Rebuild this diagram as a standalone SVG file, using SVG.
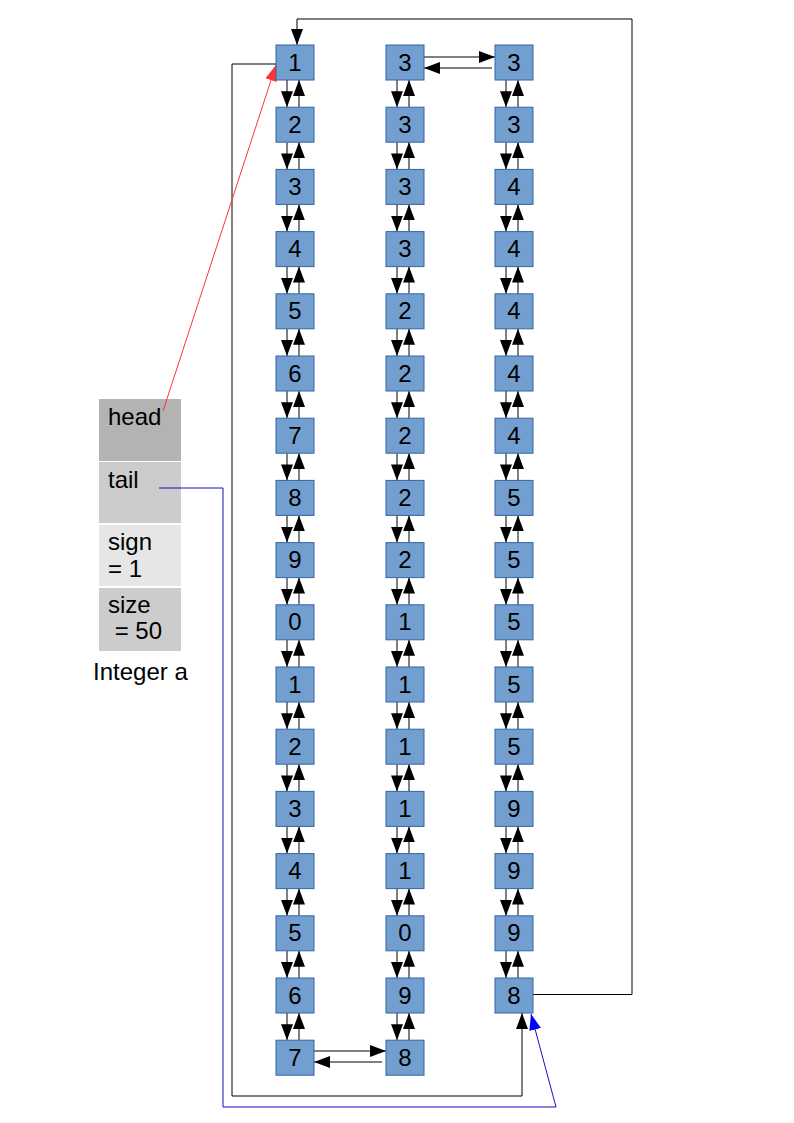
<svg xmlns="http://www.w3.org/2000/svg" xmlns:xlink="http://www.w3.org/1999/xlink" width="794" height="1123" viewBox="0 0 794 1123">
<style>
.n rect{fill:#729fcf;stroke:#3465a4;stroke-width:1}
.n text,.lbl{font-family:"Liberation Sans",Arial,sans-serif;font-size:24px;fill:#000}
.n text{text-anchor:middle}
.a{stroke:#000;stroke-width:1;fill:none;marker-end:url(#ah)}
.l{stroke:#000;stroke-width:1;fill:none}
</style>
<defs>
<marker id="ah" markerUnits="userSpaceOnUse" markerWidth="16" markerHeight="12" refX="16" refY="6" orient="auto" viewBox="0 0 16 12"><path d="M0,0 L16,6 L0,12 z" fill="#000"/></marker>
<marker id="ahr" markerUnits="userSpaceOnUse" markerWidth="16" markerHeight="12" refX="16" refY="6" orient="auto" viewBox="0 0 16 12"><path d="M0,0 L16,6 L0,12 z" fill="#ff3333"/></marker>
<marker id="ahb" markerUnits="userSpaceOnUse" markerWidth="16" markerHeight="12" refX="16" refY="6" orient="auto" viewBox="0 0 16 12"><path d="M0,0 L16,6 L0,12 z" fill="#0000ff"/></marker>
</defs>
<rect width="794" height="1123" fill="#fff"/>

<g id="integer-a">
<rect x="99" y="399" width="82" height="62" fill="#b3b3b3"/>
<rect x="99" y="462" width="82" height="61" fill="#cccccc"/>
<rect x="99" y="525" width="82" height="61" fill="#e6e6e6"/>
<rect x="99" y="588" width="82" height="63" fill="#cccccc"/>
<text class="lbl" x="108" y="425">head</text>
<text class="lbl" x="108" y="488">tail</text>
<text class="lbl" x="108" y="550">sign</text>
<text class="lbl" x="108" y="577">= 1</text>
<text class="lbl" x="108" y="613" xml:space="preserve">size</text>
<text class="lbl" x="108" y="639" xml:space="preserve"> = 50</text>
<text class="lbl" x="93" y="680">Integer a</text>
</g>

<g id="connectors">
<!-- column 1 vertical -->
<path class="a" d="M287,80 V107.2"/><path class="a" d="M299,107.2 V80"/>
<path class="a" d="M287,142.2 V169.4"/><path class="a" d="M299,169.4 V142.2"/>
<path class="a" d="M287,204.4 V231.6"/><path class="a" d="M299,231.6 V204.4"/>
<path class="a" d="M287,266.6 V293.8"/><path class="a" d="M299,293.8 V266.6"/>
<path class="a" d="M287,328.8 V356"/><path class="a" d="M299,356 V328.8"/>
<path class="a" d="M287,391 V418.2"/><path class="a" d="M299,418.2 V391"/>
<path class="a" d="M287,453.2 V480.4"/><path class="a" d="M299,480.4 V453.2"/>
<path class="a" d="M287,515.4 V542.6"/><path class="a" d="M299,542.6 V515.4"/>
<path class="a" d="M287,577.6 V604.8"/><path class="a" d="M299,604.8 V577.6"/>
<path class="a" d="M287,639.8 V667"/><path class="a" d="M299,667 V639.8"/>
<path class="a" d="M287,702 V729.2"/><path class="a" d="M299,729.2 V702"/>
<path class="a" d="M287,764.2 V791.4"/><path class="a" d="M299,791.4 V764.2"/>
<path class="a" d="M287,826.4 V853.6"/><path class="a" d="M299,853.6 V826.4"/>
<path class="a" d="M287,888.6 V915.8"/><path class="a" d="M299,915.8 V888.6"/>
<path class="a" d="M287,950.8 V978"/><path class="a" d="M299,978 V950.8"/>
<path class="a" d="M287,1013 V1040.2"/><path class="a" d="M299,1040.2 V1013"/>
<!-- column 2 vertical -->
<path class="a" d="M397,80 V107.2"/><path class="a" d="M409,107.2 V80"/>
<path class="a" d="M397,142.2 V169.4"/><path class="a" d="M409,169.4 V142.2"/>
<path class="a" d="M397,204.4 V231.6"/><path class="a" d="M409,231.6 V204.4"/>
<path class="a" d="M397,266.6 V293.8"/><path class="a" d="M409,293.8 V266.6"/>
<path class="a" d="M397,328.8 V356"/><path class="a" d="M409,356 V328.8"/>
<path class="a" d="M397,391 V418.2"/><path class="a" d="M409,418.2 V391"/>
<path class="a" d="M397,453.2 V480.4"/><path class="a" d="M409,480.4 V453.2"/>
<path class="a" d="M397,515.4 V542.6"/><path class="a" d="M409,542.6 V515.4"/>
<path class="a" d="M397,577.6 V604.8"/><path class="a" d="M409,604.8 V577.6"/>
<path class="a" d="M397,639.8 V667"/><path class="a" d="M409,667 V639.8"/>
<path class="a" d="M397,702 V729.2"/><path class="a" d="M409,729.2 V702"/>
<path class="a" d="M397,764.2 V791.4"/><path class="a" d="M409,791.4 V764.2"/>
<path class="a" d="M397,826.4 V853.6"/><path class="a" d="M409,853.6 V826.4"/>
<path class="a" d="M397,888.6 V915.8"/><path class="a" d="M409,915.8 V888.6"/>
<path class="a" d="M397,950.8 V978"/><path class="a" d="M409,978 V950.8"/>
<path class="a" d="M397,1013 V1040.2"/><path class="a" d="M409,1040.2 V1013"/>
<!-- column 3 vertical -->
<path class="a" d="M506,80 V107.2"/><path class="a" d="M518,107.2 V80"/>
<path class="a" d="M506,142.2 V169.4"/><path class="a" d="M518,169.4 V142.2"/>
<path class="a" d="M506,204.4 V231.6"/><path class="a" d="M518,231.6 V204.4"/>
<path class="a" d="M506,266.6 V293.8"/><path class="a" d="M518,293.8 V266.6"/>
<path class="a" d="M506,328.8 V356"/><path class="a" d="M518,356 V328.8"/>
<path class="a" d="M506,391 V418.2"/><path class="a" d="M518,418.2 V391"/>
<path class="a" d="M506,453.2 V480.4"/><path class="a" d="M518,480.4 V453.2"/>
<path class="a" d="M506,515.4 V542.6"/><path class="a" d="M518,542.6 V515.4"/>
<path class="a" d="M506,577.6 V604.8"/><path class="a" d="M518,604.8 V577.6"/>
<path class="a" d="M506,639.8 V667"/><path class="a" d="M518,667 V639.8"/>
<path class="a" d="M506,702 V729.2"/><path class="a" d="M518,729.2 V702"/>
<path class="a" d="M506,764.2 V791.4"/><path class="a" d="M518,791.4 V764.2"/>
<path class="a" d="M506,826.4 V853.6"/><path class="a" d="M518,853.6 V826.4"/>
<path class="a" d="M506,888.6 V915.8"/><path class="a" d="M518,915.8 V888.6"/>
<path class="a" d="M506,950.8 V978"/><path class="a" d="M518,978 V950.8"/>
<!-- horizontal links -->
<path class="a" d="M424,57 H495"/><path class="a" d="M492,68 H424"/>
<path class="a" d="M314,1051 H386"/><path class="a" d="M382,1062 H314"/>
<!-- loops -->
<path class="a" d="M533,994.5 H632 V19 H297 V45"/>
<path class="a" d="M276,64 H232 V1096 H522 V1013"/>
<!-- head / tail pointers -->
<path d="M163,411 L276,65" stroke="#ff3333" stroke-width="1" fill="none" marker-end="url(#ahr)"/>
<path d="M159,488 H223 V1107 H556 L531,1014" stroke="#1010c0" stroke-width="1" fill="none" marker-end="url(#ahb)"/>
</g>

<g id="col1">
<g id="c1r0" class="n"><rect x="276" y="45" width="38" height="35"/><text x="295" y="70.5">1</text></g>
<g id="c1r1" class="n"><rect x="276" y="107.2" width="38" height="35"/><text x="295" y="132.7">2</text></g>
<g id="c1r2" class="n"><rect x="276" y="169.4" width="38" height="35"/><text x="295" y="194.9">3</text></g>
<g id="c1r3" class="n"><rect x="276" y="231.6" width="38" height="35"/><text x="295" y="257.1">4</text></g>
<g id="c1r4" class="n"><rect x="276" y="293.8" width="38" height="35"/><text x="295" y="319.3">5</text></g>
<g id="c1r5" class="n"><rect x="276" y="356" width="38" height="35"/><text x="295" y="381.5">6</text></g>
<g id="c1r6" class="n"><rect x="276" y="418.2" width="38" height="35"/><text x="295" y="443.7">7</text></g>
<g id="c1r7" class="n"><rect x="276" y="480.4" width="38" height="35"/><text x="295" y="505.9">8</text></g>
<g id="c1r8" class="n"><rect x="276" y="542.6" width="38" height="35"/><text x="295" y="568.1">9</text></g>
<g id="c1r9" class="n"><rect x="276" y="604.8" width="38" height="35"/><text x="295" y="630.3">0</text></g>
<g id="c1r10" class="n"><rect x="276" y="667" width="38" height="35"/><text x="295" y="692.5">1</text></g>
<g id="c1r11" class="n"><rect x="276" y="729.2" width="38" height="35"/><text x="295" y="754.7">2</text></g>
<g id="c1r12" class="n"><rect x="276" y="791.4" width="38" height="35"/><text x="295" y="816.9">3</text></g>
<g id="c1r13" class="n"><rect x="276" y="853.6" width="38" height="35"/><text x="295" y="879.1">4</text></g>
<g id="c1r14" class="n"><rect x="276" y="915.8" width="38" height="35"/><text x="295" y="941.3">5</text></g>
<g id="c1r15" class="n"><rect x="276" y="978" width="38" height="35"/><text x="295" y="1003.5">6</text></g>
<g id="c1r16" class="n"><rect x="276" y="1040.2" width="38" height="35"/><text x="295" y="1065.7">7</text></g>
</g>

<g id="col2">
<g id="c2r0" class="n"><rect x="386" y="45" width="38" height="35"/><text x="405" y="70.5">3</text></g>
<g id="c2r1" class="n"><rect x="386" y="107.2" width="38" height="35"/><text x="405" y="132.7">3</text></g>
<g id="c2r2" class="n"><rect x="386" y="169.4" width="38" height="35"/><text x="405" y="194.9">3</text></g>
<g id="c2r3" class="n"><rect x="386" y="231.6" width="38" height="35"/><text x="405" y="257.1">3</text></g>
<g id="c2r4" class="n"><rect x="386" y="293.8" width="38" height="35"/><text x="405" y="319.3">2</text></g>
<g id="c2r5" class="n"><rect x="386" y="356" width="38" height="35"/><text x="405" y="381.5">2</text></g>
<g id="c2r6" class="n"><rect x="386" y="418.2" width="38" height="35"/><text x="405" y="443.7">2</text></g>
<g id="c2r7" class="n"><rect x="386" y="480.4" width="38" height="35"/><text x="405" y="505.9">2</text></g>
<g id="c2r8" class="n"><rect x="386" y="542.6" width="38" height="35"/><text x="405" y="568.1">2</text></g>
<g id="c2r9" class="n"><rect x="386" y="604.8" width="38" height="35"/><text x="405" y="630.3">1</text></g>
<g id="c2r10" class="n"><rect x="386" y="667" width="38" height="35"/><text x="405" y="692.5">1</text></g>
<g id="c2r11" class="n"><rect x="386" y="729.2" width="38" height="35"/><text x="405" y="754.7">1</text></g>
<g id="c2r12" class="n"><rect x="386" y="791.4" width="38" height="35"/><text x="405" y="816.9">1</text></g>
<g id="c2r13" class="n"><rect x="386" y="853.6" width="38" height="35"/><text x="405" y="879.1">1</text></g>
<g id="c2r14" class="n"><rect x="386" y="915.8" width="38" height="35"/><text x="405" y="941.3">0</text></g>
<g id="c2r15" class="n"><rect x="386" y="978" width="38" height="35"/><text x="405" y="1003.5">9</text></g>
<g id="c2r16" class="n"><rect x="386" y="1040.2" width="38" height="35"/><text x="405" y="1065.7">8</text></g>
</g>

<g id="col3">
<g id="c3r0" class="n"><rect x="495" y="45" width="38" height="35"/><text x="514" y="70.5">3</text></g>
<g id="c3r1" class="n"><rect x="495" y="107.2" width="38" height="35"/><text x="514" y="132.7">3</text></g>
<g id="c3r2" class="n"><rect x="495" y="169.4" width="38" height="35"/><text x="514" y="194.9">4</text></g>
<g id="c3r3" class="n"><rect x="495" y="231.6" width="38" height="35"/><text x="514" y="257.1">4</text></g>
<g id="c3r4" class="n"><rect x="495" y="293.8" width="38" height="35"/><text x="514" y="319.3">4</text></g>
<g id="c3r5" class="n"><rect x="495" y="356" width="38" height="35"/><text x="514" y="381.5">4</text></g>
<g id="c3r6" class="n"><rect x="495" y="418.2" width="38" height="35"/><text x="514" y="443.7">4</text></g>
<g id="c3r7" class="n"><rect x="495" y="480.4" width="38" height="35"/><text x="514" y="505.9">5</text></g>
<g id="c3r8" class="n"><rect x="495" y="542.6" width="38" height="35"/><text x="514" y="568.1">5</text></g>
<g id="c3r9" class="n"><rect x="495" y="604.8" width="38" height="35"/><text x="514" y="630.3">5</text></g>
<g id="c3r10" class="n"><rect x="495" y="667" width="38" height="35"/><text x="514" y="692.5">5</text></g>
<g id="c3r11" class="n"><rect x="495" y="729.2" width="38" height="35"/><text x="514" y="754.7">5</text></g>
<g id="c3r12" class="n"><rect x="495" y="791.4" width="38" height="35"/><text x="514" y="816.9">9</text></g>
<g id="c3r13" class="n"><rect x="495" y="853.6" width="38" height="35"/><text x="514" y="879.1">9</text></g>
<g id="c3r14" class="n"><rect x="495" y="915.8" width="38" height="35"/><text x="514" y="941.3">9</text></g>
<g id="c3r15" class="n"><rect x="495" y="978" width="38" height="35"/><text x="514" y="1003.5">8</text></g>
</g>
</svg>
